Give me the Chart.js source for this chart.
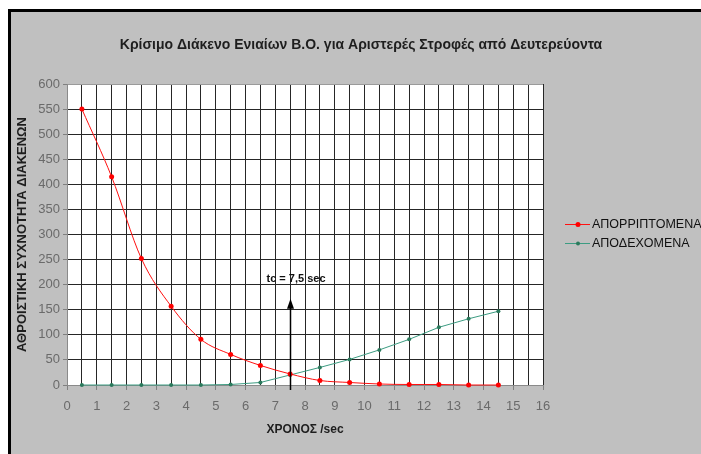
<!DOCTYPE html>
<html>
<head>
<meta charset="utf-8">
<script src="https://cdn.jsdelivr.net/npm/chart.js@4/dist/chart.umd.min.js"></script>
<style>
  html, body { margin: 0; padding: 0; background: #ffffff; }
  #wrap { width: 701px; height: 454px; position: relative; }
  canvas { display: block; }
</style>
</head>
<body>
<div id="wrap"><canvas id="chart" width="701" height="454"></canvas></div>
<script>
// Gap length (sec) at which each class was counted
const gapSeconds = [0.5, 1.5, 2.5, 3.5, 4.5, 5.5, 6.5, 7.5, 8.5, 9.5, 10.5, 11.5, 12.5, 13.5, 14.5];
// Cumulative frequency of rejected gaps
const rejectedGaps = [550, 415, 252, 157, 91, 61, 39, 22, 9, 5, 2, 1, 1, 0, 0];
// Cumulative frequency of accepted gaps
const acceptedGaps = [0, 0, 0, 0, 0, 1, 5, 20, 35, 51, 70, 91, 115, 132, 147];

const seriesLabels = ['ΑΠΟΡΡΙΠΤΟΜΕΝΑ', 'ΑΠΟΔΕΧΟΜΕΝΑ'];
const chartTitle = 'Κρίσιμο Διάκενο Ενιαίων Β.Ο. για Αριστερές Στροφές από Δευτερεύοντα';
const xAxisTitle = 'ΧΡΟΝΟΣ /sec';
const yAxisTitle = 'ΑΘΡΟΙΣΤΙΚΗ ΣΥΧΝΟΤΗΤΑ ΔΙΑΚΕΝΩΝ';

// Axis ranges
const xMin = 0, xMax = 16, xGridStep = 0.5;
const yMin = 0, yMax = 600, yStep = 50;

// Critical gap marker
const criticalGap = 7.5;
const criticalArrowTop = 172;
const criticalLabel = 'tc = 7,5 sec';

const FONT = "'Liberation Sans', Arial, sans-serif";

const toPoints = (xs, ys) => xs.map((x, i) => ({ x: x, y: ys[i] }));

// Frame, grey chart background and white plot area
const backdrop = {
  id: 'backdrop',
  beforeDraw(chart) {
    const { ctx, chartArea: a, width, height } = chart;
    ctx.save();
    ctx.fillStyle = '#ffffff';
    ctx.fillRect(0, 0, width, height);
    ctx.fillStyle = '#c0c0c0';
    ctx.fillRect(8, 9, width - 8, height - 9);
    ctx.fillStyle = '#000000';
    ctx.fillRect(8, 9, width - 8, 3);
    ctx.fillRect(8, 9, 3, height - 9);
    ctx.fillStyle = '#ffffff';
    ctx.fillRect(a.left, a.top, a.right - a.left, a.bottom - a.top);
    ctx.restore();
  }
};

// Heading above the plot
const heading = {
  id: 'heading',
  afterDraw(chart) {
    const { ctx } = chart;
    ctx.save();
    ctx.font = 'bold 14px ' + FONT;
    ctx.fillStyle = '#1e1e1e';
    ctx.textAlign = 'center';
    ctx.textBaseline = 'middle';
    ctx.fillText(chartTitle, 361, 45);
    ctx.restore();
  }
};

// Arrow at the critical gap with its label
const criticalMarker = {
  id: 'criticalMarker',
  afterDatasetsDraw(chart) {
    const { ctx, scales: { x, y } } = chart;
    const px = Math.round(x.getPixelForValue(criticalGap)) + 0.5;
    const yBottom = y.getPixelForValue(0) + 5;
    const yTip = y.getPixelForValue(criticalArrowTop);
    ctx.save();
    ctx.strokeStyle = '#000000';
    ctx.lineWidth = 1.5;
    ctx.beginPath();
    ctx.moveTo(px, yBottom);
    ctx.lineTo(px, yTip + 6);
    ctx.stroke();
    ctx.fillStyle = '#000000';
    ctx.beginPath();
    ctx.moveTo(px, yTip);
    ctx.lineTo(px - 3.5, yTip + 10);
    ctx.lineTo(px + 3.5, yTip + 10);
    ctx.closePath();
    ctx.fill();
    ctx.font = 'bold 11px ' + FONT;
    ctx.textAlign = 'left';
    ctx.textBaseline = 'middle';
    ctx.fillStyle = '#111111';
    ctx.fillText(criticalLabel, px - 24, yTip - 20);
    ctx.restore();
  }
};

// Legend to the right of the plot
const sideLegend = {
  id: 'sideLegend',
  afterDraw(chart) {
    const { ctx } = chart;
    const rows = [224, 243];
    ctx.save();
    chart.data.datasets.forEach((ds, i) => {
      const cy = rows[i];
      ctx.strokeStyle = ds.borderColor;
      ctx.lineWidth = 1;
      ctx.beginPath();
      ctx.moveTo(565, cy + 0.5);
      ctx.lineTo(590, cy + 0.5);
      ctx.stroke();
      ctx.fillStyle = ds.pointBackgroundColor;
      ctx.beginPath();
      ctx.arc(578, cy + 0.5, ds.pointRadius, 0, Math.PI * 2);
      ctx.fill();
      ctx.font = '12.5px ' + FONT;
      ctx.fillStyle = '#111111';
      ctx.textAlign = 'left';
      ctx.textBaseline = 'middle';
      ctx.fillText(ds.label, 592, cy + 1);
    });
    ctx.restore();
  }
};

new Chart(document.getElementById('chart'), {
  type: 'line',
  data: {
    datasets: [
      {
        label: seriesLabels[0],
        data: toPoints(gapSeconds, rejectedGaps),
        borderColor: '#ff1010',
        borderWidth: 1,
        pointBackgroundColor: '#ff0000',
        pointBorderWidth: 0,
        pointRadius: 2.5,
        cubicInterpolationMode: 'monotone',
        clip: false
      },
      {
        label: seriesLabels[1],
        data: toPoints(gapSeconds, acceptedGaps),
        borderColor: '#3c9c82',
        borderWidth: 1,
        pointBackgroundColor: '#2a7a5c',
        pointBorderWidth: 0,
        pointRadius: 2,
        tension: 0,
        clip: false
      }
    ]
  },
  options: {
    responsive: false,
    animation: false,
    devicePixelRatio: 1,
    layout: { padding: { top: 84, right: 158, bottom: 0, left: 0 } },
    plugins: {
      legend: { display: false },
      title: { display: false },
      tooltip: { enabled: false }
    },
    scales: {
      x: {
        type: 'linear',
        min: xMin,
        max: xMax,
        afterFit(scale) { scale.height = 69; },
        ticks: {
          stepSize: xGridStep,
          autoSkip: false,
          maxRotation: 0,
          padding: 9,
          color: '#6a6a6a',
          font: { family: FONT, size: 13 },
          callback: (v) => (Number.isInteger(v) ? String(v) : '')
        },
        grid: {
          color: '#262626',
          lineWidth: 1,
          tickLength: 5,
          tickColor: (ctx) => (ctx.tick && Number.isInteger(ctx.tick.value) ? '#808080' : 'rgba(0,0,0,0)')
        },
        border: { color: '#8a8a8a', width: 1 },
        title: {
          display: true,
          text: xAxisTitle,
          color: '#1e1e1e',
          font: { family: FONT, size: 12, weight: 'bold' },
          padding: { top: 0, bottom: 16.8 }
        }
      },
      y: {
        type: 'linear',
        min: yMin,
        max: yMax,
        afterFit(scale) { scale.width = 67; },
        ticks: {
          stepSize: yStep,
          padding: 3,
          color: '#6a6a6a',
          font: { family: FONT, size: 13 }
        },
        grid: {
          color: (ctx) => (ctx.tick && ctx.tick.value === yMax ? '#9a9a9a' : '#262626'),
          lineWidth: 1,
          tickLength: 4,
          tickColor: '#808080'
        },
        border: { color: '#8a8a8a', width: 1 },
        title: {
          display: true,
          text: yAxisTitle,
          color: '#1e1e1e',
          font: { family: FONT, size: 13, weight: 'bold' },
          padding: { top: 14.2, bottom: 0 }
        }
      }
    }
  },
  plugins: [backdrop, heading, criticalMarker, sideLegend]
});
</script>
</body>
</html>
